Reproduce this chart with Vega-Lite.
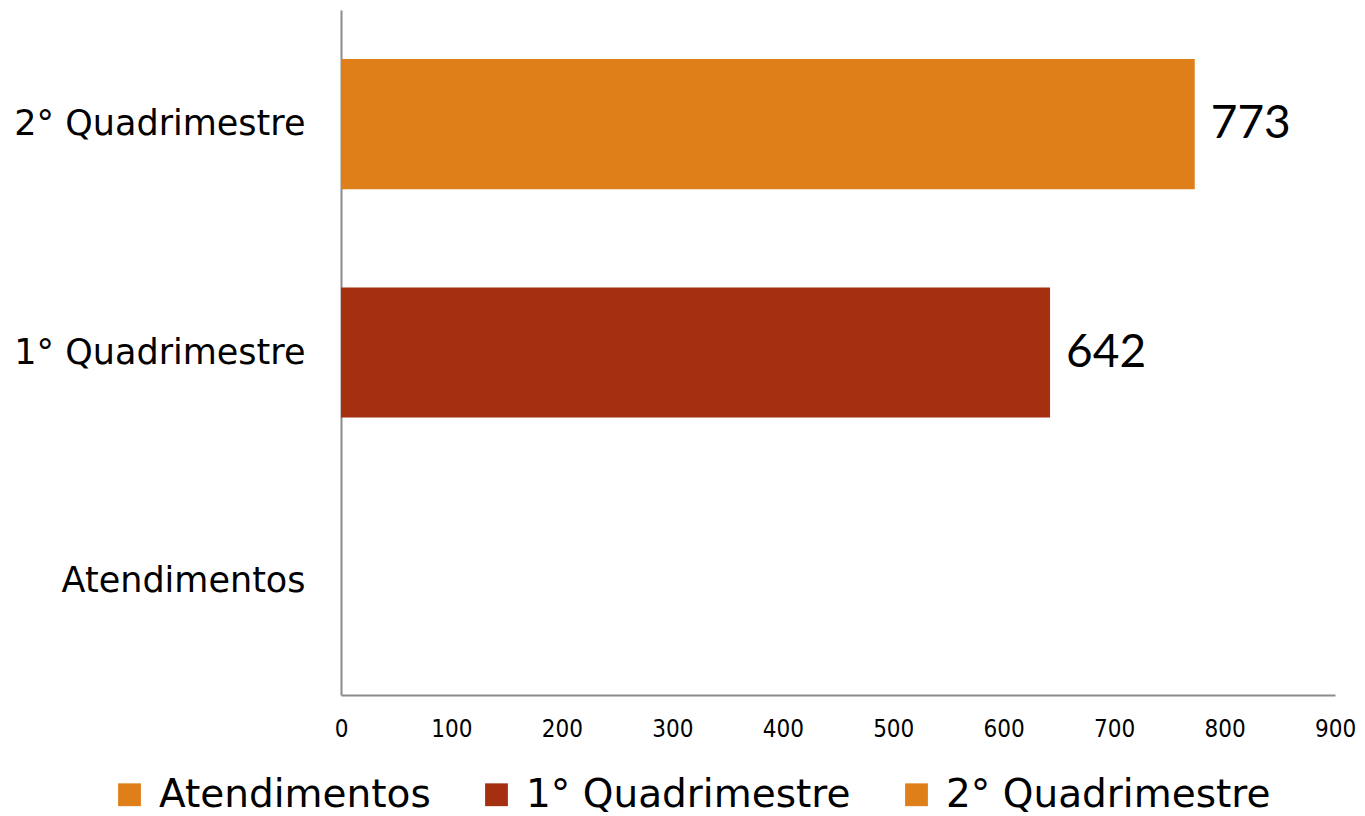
{
  "$schema": "https://vega.github.io/schema/vega-lite/v6.json",
  "width": 994,
  "height": 685,
  "autosize": {"type": "none"},
  "padding": {"left": 341, "top": 10, "right": 30, "bottom": 121},
  "background": "white",
  "config": {"view": {"stroke": null}, "font": "DejaVu Sans"},
  "data": {"values": [
    {"serie": "Atendimentos", "valor": null},
    {"serie": "1° Quadrimestre", "valor": 642},
    {"serie": "2° Quadrimestre", "valor": 773}
  ]},
  "encoding": {
    "y": {
      "field": "serie", "type": "nominal",
      "sort": ["2° Quadrimestre", "1° Quadrimestre", "Atendimentos"],
      "scale": {"paddingInner": 0.43, "paddingOuter": 0.215},
      "axis": {"title": null, "ticks": false, "domainColor": "#8c8c8c", "domainWidth": 2, "labelFontSize": 35, "labelColor": "#000000", "labelPadding": 36, "labelFont": "DejaVu Sans", "labelLimit": 400}
    },
    "x": {
      "field": "valor", "type": "quantitative",
      "scale": {"domain": [0, 900], "nice": false},
      "axis": {"title": null, "values": [0,100,200,300,400,500,600,700,800,900], "grid": false, "ticks": false, "domainColor": "#8c8c8c", "domainWidth": 2, "labelFontSize": 24, "labelColor": "#000000", "labelPadding": 22, "labelFont": "DejaVu Sans Condensed, DejaVu Sans", "labelFlush": false}
    }
  },
  "layer": [
    {
      "mark": {"type": "bar"},
      "encoding": {
        "color": {
          "field": "serie", "type": "nominal",
          "scale": {"domain": ["Atendimentos", "1° Quadrimestre", "2° Quadrimestre"], "range": ["#DF7F1A", "#A52F11", "#DF7F1A"]},
          "legend": {"title": null, "orient": "none", "legendX": -231, "legendY": 765, "direction": "horizontal", "symbolType": "square", "symbolSize": 520, "symbolStrokeWidth": 0, "labelFontSize": 39, "labelColor": "#000000", "labelFont": "DejaVu Sans", "columnPadding": 46, "labelLimit": 500, "labelOffset": 10, "symbolOffset": 0}
        }
      }
    },
    {
      "mark": {"type": "text", "align": "left", "dx": 16, "fontSize": 46, "color": "#000000", "font": "Lato"},
      "encoding": {"text": {"field": "valor", "type": "quantitative"}}
    }
  ]
}
